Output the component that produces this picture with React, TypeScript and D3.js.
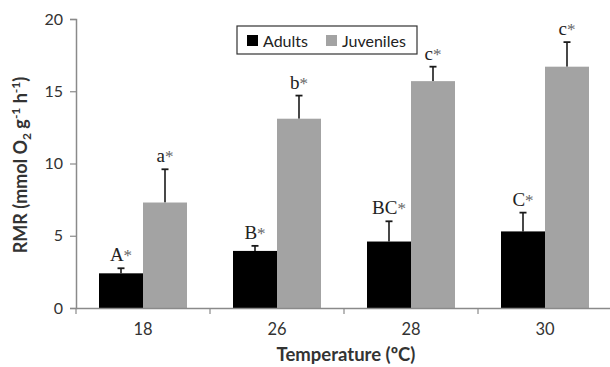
import React, { useEffect, useRef } from 'react'
import * as d3 from 'd3'

// temperatures (ºC)
const temps = ['18', '26', '28', '30']
const series = ['Adults', 'Juveniles']
const adults = [2.4, 3.95, 4.6, 5.3]
const adultsErr = [0.35, 0.35, 1.4, 1.3]
const juveniles = [7.3, 13.1, 15.7, 16.7]
const juvenilesErr = [2.3, 1.6, 1.0, 1.7]
const adultLabels = ['A', 'B', 'BC', 'C']
const juvLabels = ['a', 'b', 'c', 'c']
const yTicks = [0, 5, 10, 15, 20]

const W = 610
const H = 367
const SANS = 'Lato, "Open Sans", sans-serif'

export default function App() {
  const ref = useRef<SVGSVGElement>(null)

  useEffect(() => {
    const svg = d3.select(ref.current)
    svg.selectAll('*').remove()

    const margin = { left: 76, right: -2, top: 19, bottom: 59 }
    const plotBottom = H - margin.bottom

    const x = d3.scaleBand().domain(temps).range([margin.left, W - margin.right])
    const inner = d3.scaleBand().domain(series).range([0, 88])
    const y = d3.scaleLinear().domain([0, 20]).range([plotBottom, margin.top])

    const colors: Record<string, string> = { Adults: '#000000', Juveniles: '#a3a3a3' }
    const vals: Record<string, number[]> = { Adults: adults, Juveniles: juveniles }
    const errs: Record<string, number[]> = { Adults: adultsErr, Juveniles: juvenilesErr }
    const labs: Record<string, string[]> = { Adults: adultLabels, Juveniles: juvLabels }

    const g = svg.append('g')

    // bars, error bars and letters
    series.forEach(s => {
      temps.forEach((t, i) => {
        const x0 = (x(t) as number) + (x.bandwidth() - 88) / 2 + (inner(s) as number)
        const bw = inner.bandwidth()
        const v = vals[s][i]
        const e = v + errs[s][i]
        const cx = x0 + bw / 2
        g.append('line')
          .attr('x1', cx).attr('x2', cx)
          .attr('y1', y(v)).attr('y2', y(e))
          .attr('stroke', '#1a1a1a').attr('stroke-width', 1.6)
        g.append('line')
          .attr('x1', cx - 3.5).attr('x2', cx + 3.5)
          .attr('y1', y(e)).attr('y2', y(e))
          .attr('stroke', '#1a1a1a').attr('stroke-width', 1.8)
        g.append('rect')
          .attr('x', x0).attr('width', bw)
          .attr('y', y(v)).attr('height', y(0) - y(v))
          .attr('fill', colors[s])
        const txt = g.append('text')
          .attr('x', cx).attr('y', y(e) - 7)
          .attr('text-anchor', 'middle')
          .attr('font-family', '"Liberation Serif", "DejaVu Serif", serif')
          .attr('font-size', 19)
          .attr('fill', '#222')
        txt.append('tspan').text(labs[s][i])
        txt.append('tspan').text('*').attr('fill', '#666').attr('font-size', 17)
      })
    })

    // y axis
    const yAxis = svg.append('g')
      .attr('transform', `translate(${margin.left},0)`)
      .call(d3.axisLeft(y).tickValues(yTicks).tickSize(6).tickPadding(7))
    yAxis.select('.domain').attr('stroke', '#8a8a8a').attr('stroke-width', 1.5)
    yAxis.selectAll('.tick line').attr('stroke', '#8a8a8a').attr('stroke-width', 1.2)
    yAxis.selectAll('.tick text')
      .attr('font-family', SANS)
      .attr('font-size', 16)
      .attr('fill', '#333')

    // x axis
    const xAxis = svg.append('g')
      .attr('transform', `translate(0,${plotBottom})`)
      .call(d3.axisBottom(x).tickSize(0).tickPadding(15))
    xAxis.select('.domain').attr('stroke', '#8a8a8a').attr('stroke-width', 1.5)
    xAxis.selectAll('.tick text')
      .attr('font-family', SANS)
      .attr('font-size', 16.5)
      .attr('fill', '#333')
    // tick marks between categories
    xAxis.selectAll('.sep')
      .data(temps)
      .enter().append('line')
      .attr('x1', d => x(d) as number).attr('x2', d => x(d) as number)
      .attr('y1', 0).attr('y2', 6)
      .attr('stroke', '#8a8a8a').attr('stroke-width', 1.2)

    // axis titles
    svg.append('text')
      .attr('x', 346).attr('y', 361)
      .attr('text-anchor', 'middle')
      .attr('font-family', SANS)
      .attr('font-weight', 'bold')
      .attr('font-size', 18.5)
      .attr('fill', '#333')
      .text('Temperature (ºC)')

    const yt = svg.append('text')
      .attr('transform', `translate(27,${165}) rotate(-90)`)
      .attr('text-anchor', 'middle')
      .attr('font-family', SANS)
      .attr('font-weight', 'bold')
      .attr('font-size', 18)
      .attr('fill', '#333')
    yt.append('tspan').text('RMR (mmol O')
    yt.append('tspan').text('2').attr('font-size', 12).attr('dy', 4)
    yt.append('tspan').text(' g').attr('dy', -4)
    yt.append('tspan').text('-1').attr('font-size', 12).attr('dy', -7)
    yt.append('tspan').text(' h').attr('dy', 7)
    yt.append('tspan').text('-1').attr('font-size', 12).attr('dy', -7)
    yt.append('tspan').text(')').attr('dy', 7)

    // legend
    const lg = svg.append('g').attr('transform', 'translate(237,26)')
    lg.append('rect')
      .attr('width', 180).attr('height', 28)
      .attr('fill', 'white').attr('stroke', '#333').attr('stroke-width', 1.2)
    const lx = [10, 89]
    series.forEach((s, i) => {
      lg.append('rect')
        .attr('x', lx[i]).attr('y', 9).attr('width', 11).attr('height', 11)
        .attr('fill', colors[s])
      lg.append('text')
        .attr('x', lx[i] + 16).attr('y', 20.5)
        .attr('font-family', SANS)
        .attr('font-size', 16)
        .attr('fill', '#222')
        .text(s)
    })
  }, [])

  return (
    <svg ref={ref} width={W} height={H}
      style={{ position: 'absolute', left: 0, top: 0, background: 'white' }} />
  )
}
